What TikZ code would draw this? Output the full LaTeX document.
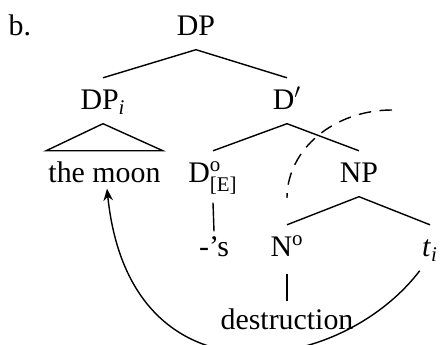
\documentclass[tikz,border=0pt]{standalone}
\usepackage{amsmath}
\usepackage{fontspec}
\setmainfont{Liberation Serif}
\usetikzlibrary{arrows.meta}

\begin{document}
\begin{tikzpicture}[line width=0.8pt,
  every node/.style={font=\fontsize{17}{20}\selectfont},
  tn/.style={anchor=base, inner xsep=1pt, inner ysep=0.26cm, text height=0.37cm, text depth=0cm}]
\useasboundingbox (0,0) rectangle (8.82,6.9);
\node[anchor=base west, inner sep=0pt] (lbl) at (0.16,6.18) {b.};
\node[tn] (dp) at (3.92,6.18) {DP};
\node[tn] (dpi) at (2.06,4.7) {DP$_{\textit{i}}$};
\node[tn] (dbar) at (5.74,4.7) {D$'$};
\node[tn] (moon) at (2.09,3.24) {the moon};
\node[tn, text depth=0.12cm] (dE) at (4.26,3.24) {D$^{\text{o}}_{\text{[E]}}$};
\node[tn] (np) at (7.18,3.24) {NP};
\node[tn, text height=0.24cm] (s) at (4.28,1.76) {-’s};
\node[tn, text depth=0.06cm] (n) at (5.74,1.76) {N$^{\text{o}}$};
\node[tn] (ti) at (8.6,1.76) {\textit{t}$_{\textit{i}}$};
\node[tn, text height=0.3cm] (destr) at (5.74,0.3) {destruction};
\draw (dpi.north) -- (dp.south) -- (dbar.north);
\draw (dpi.south) -- (moon.north west) -- (moon.north east) -- cycle;
\draw (dE.north) -- (dbar.south) -- (np.north);
\draw (dE.south) -- (s.north);
\draw (n.north) -- (np.south) -- (ti.north);
\draw (n.south) -- (destr.north);
\coordinate (cut) at (7.84,4.7);
\draw[dash pattern=on 0.25cm off 0.17cm] (cut) arc[start angle=90, end angle=180, x radius=2.1, y radius=1.76];
\draw[-{Stealth[length=0.24cm,width=0.19cm]}] (ti.south west) .. controls +(-1.6,-2.1) and +(0.45,-4.4) .. ([shift={(0.05,0.16)}]moon.south);
\end{tikzpicture}
\end{document}
